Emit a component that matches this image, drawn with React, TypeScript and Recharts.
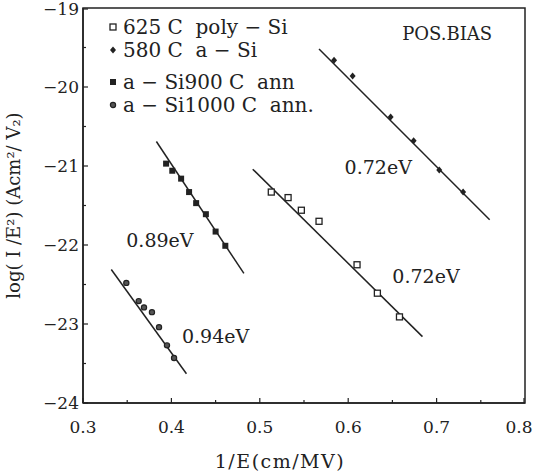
import { ComposedChart, Scatter, XAxis, YAxis, ReferenceArea, ReferenceDot, Legend } from "recharts"

const polySi = [
  { x: 0.513, y: -21.33 },
  { x: 0.532, y: -21.4 },
  { x: 0.547, y: -21.56 },
  { x: 0.567, y: -21.7 },
  { x: 0.61, y: -22.25 },
  { x: 0.633, y: -22.61 },
  { x: 0.658, y: -22.91 },
]
const aSi580 = [
  { x: 0.584, y: -19.66 },
  { x: 0.605, y: -19.86 },
  { x: 0.648, y: -20.38 },
  { x: 0.674, y: -20.68 },
  { x: 0.703, y: -21.05 },
  { x: 0.73, y: -21.33 },
]
const ann900 = [
  { x: 0.394, y: -20.97 },
  { x: 0.401, y: -21.06 },
  { x: 0.411, y: -21.16 },
  { x: 0.42, y: -21.33 },
  { x: 0.428, y: -21.47 },
  { x: 0.439, y: -21.61 },
  { x: 0.45, y: -21.83 },
  { x: 0.461, y: -22.01 },
]
const ann1000 = [
  { x: 0.349, y: -22.48 },
  { x: 0.363, y: -22.71 },
  { x: 0.369, y: -22.79 },
  { x: 0.378, y: -22.85 },
  { x: 0.386, y: -23.04 },
  { x: 0.395, y: -23.27 },
  { x: 0.403, y: -23.43 },
]

// fitted straight lines (end points)
const fitPoly = [{ x: 0.492, y: -21.04 }, { x: 0.684, y: -23.16 }]
const fit580 = [{ x: 0.567, y: -19.52 }, { x: 0.76, y: -21.68 }]
const fit900 = [{ x: 0.383, y: -20.69 }, { x: 0.482, y: -22.36 }]
const fit1000 = [{ x: 0.332, y: -22.31 }, { x: 0.417, y: -23.63 }]

const slopeLabels = [
  { x: 0.634, y: -21.01, text: "0.72eV" },
  { x: 0.688, y: -22.4, text: "0.72eV" },
  { x: 0.387, y: -21.94, text: "0.89eV" },
  { x: 0.45, y: -23.16, text: "0.94eV" },
]

const xTicks = [0.3, 0.35, 0.4, 0.45, 0.5, 0.55, 0.6, 0.65, 0.7, 0.75, 0.8]
const yTicks = [-24, -23.5, -23, -22.5, -22, -21.5, -21, -20.5, -20, -19.5, -19]

const legendNames = ["625 C  poly − Si", "580 C  a − Si", "a − Si900 C  ann", "a − Si1000 C  ann."]

const ink = "#222"
const font = "'DejaVu Serif', serif"

const OpenSquare = (p: any) => (
  <rect x={p.cx - 3} y={p.cy - 3} width={6} height={6} fill="#fff" stroke={ink} strokeWidth={1.3} />
)
const FilledSquare = (p: any) => <rect x={p.cx - 3} y={p.cy - 3} width={6} height={6} fill={ink} />
const Diamond = (p: any) => (
  <path d={`M${p.cx},${p.cy - 3.5}L${p.cx + 3},${p.cy}L${p.cx},${p.cy + 3.5}L${p.cx - 3},${p.cy}Z`} fill={ink} />
)
const Dot = (p: any) => <circle cx={p.cx} cy={p.cy} r={2.6} fill="#555" stroke={ink} strokeWidth={1.2} />
const NoMark = () => <g />

const isMajor = (v: number) => Math.abs(v * 10 - Math.round(v * 10)) < 1e-6
const isWhole = (v: number) => Math.abs(v - Math.round(v)) < 1e-6

const XTick = (props: any) => {
  const { x, y, payload } = props
  const major = isMajor(payload.value)
  return (
    <g>
      <line x1={x} y1={y} x2={x} y2={y - (major ? 5 : 3)} stroke={ink} strokeWidth={1.2} />
      {major && (
        <text x={Math.min(x, 519)} y={y + 30} textAnchor="middle" fontSize={17} fill={ink} fontFamily={font}>
          {payload.value.toFixed(1)}
        </text>
      )}
    </g>
  )
}

const YTick = (props: any) => {
  const { x, y, payload } = props
  const major = isWhole(payload.value)
  return (
    <g>
      <line x1={x} y1={y} x2={x + (major ? 5 : 3)} y2={y} stroke={ink} strokeWidth={1.2} />
      {major && (
        <text x={x - 4} y={y + 6} textAnchor="end" fontSize={17} fill={ink} fontFamily={font}>
          {"−" + Math.abs(payload.value)}
        </text>
      )}
    </g>
  )
}

const legendMarks = [OpenSquare, Diamond, FilledSquare, Dot]
const legendTops = [15, 38, 70, 93]

const LegendBox = () => (
  <div style={{ position: "relative", width: 220, height: 120, fontFamily: font, fontSize: 20, color: ink }}>
    {legendNames.map((name, i) => {
      const Mark = legendMarks[i]
      return (
        <div key={name} style={{ position: "absolute", left: 0, top: legendTops[i], whiteSpace: "pre", lineHeight: "24px" }}>
          <svg width={12} height={24} style={{ verticalAlign: "top" }}>
            <Mark cx={6} cy={12} />
          </svg>
          <span style={{ marginLeft: 4 }}>{name}</span>
        </div>
      )
    })}
  </div>
)

export default function App() {
  return (
    <div style={{ width: 534, height: 474, background: "#fff" }}>
      <style>{`body{margin:0}`}</style>
      <ComposedChart width={534} height={474} margin={{ top: 8, right: 9, left: 0, bottom: 0 }}>
        <XAxis
          type="number"
          dataKey="x"
          domain={[0.3, 0.8]}
          ticks={xTicks}
          tick={<XTick />}
          tickSize={0}
          tickMargin={0}
          tickLine={false}
          height={71}
          axisLine={{ stroke: ink, strokeWidth: 1.5 }}
          allowDataOverflow
          label={{
            value: "1/E(cm/MV)",
            position: "insideBottom",
            offset: 6,
            dx: -24,
            fontSize: 19,
            fill: ink,
            fontFamily: font,
            letterSpacing: 1.5,
          }}
        />
        <YAxis
          type="number"
          dataKey="y"
          domain={[-24, -19]}
          ticks={yTicks}
          tick={<YTick />}
          tickSize={0}
          tickMargin={0}
          tickLine={false}
          width={83}
          axisLine={{ stroke: ink, strokeWidth: 1.5 }}
          allowDataOverflow
          label={{
            value: "log( I /E²) (Acm²/ V₂)",
            angle: -90,
            position: "insideLeft",
            offset: 14,
            dy: 0,
            fontSize: 18,
            fill: ink,
            fontFamily: font,
            style: { textAnchor: "middle" },
          }}
        />
        <ReferenceArea x1={0.3} x2={0.8} y1={-24} y2={-19} fill="none" stroke={ink} strokeWidth={1.5} />
        <Legend layout="vertical" align="center" verticalAlign="middle" content={<LegendBox />} wrapperStyle={{ left: 107, top: 0, width: 220 }} />

        <Scatter data={fitPoly} line={{ stroke: ink, strokeWidth: 1.5 }} shape={NoMark} isAnimationActive={false} legendType="none" />
        <Scatter data={fit580} line={{ stroke: ink, strokeWidth: 1.5 }} shape={NoMark} isAnimationActive={false} legendType="none" />
        <Scatter data={fit900} line={{ stroke: ink, strokeWidth: 1.5 }} shape={NoMark} isAnimationActive={false} legendType="none" />
        <Scatter data={fit1000} line={{ stroke: ink, strokeWidth: 1.5 }} shape={NoMark} isAnimationActive={false} legendType="none" />

        <Scatter name={legendNames[0]} data={polySi} shape={OpenSquare} isAnimationActive={false} />
        <Scatter name={legendNames[1]} data={aSi580} shape={Diamond} isAnimationActive={false} />
        <Scatter name={legendNames[2]} data={ann900} shape={FilledSquare} isAnimationActive={false} />
        <Scatter name={legendNames[3]} data={ann1000} shape={Dot} isAnimationActive={false} />

        {slopeLabels.map((l, i) => (
          <ReferenceDot
            key={i}
            x={l.x}
            y={l.y}
            r={0}
            fill="none"
            stroke="none"
            label={{ value: l.text, position: "center", fontSize: 19, fill: ink, fontFamily: font }}
          />
        ))}
        <ReferenceDot
          x={0.712}
          y={-19.32}
          r={0}
          fill="none"
          stroke="none"
          label={{ value: "POS.BIAS", position: "center", fontSize: 18, fill: ink, fontFamily: font }}
        />
      </ComposedChart>
    </div>
  )
}
